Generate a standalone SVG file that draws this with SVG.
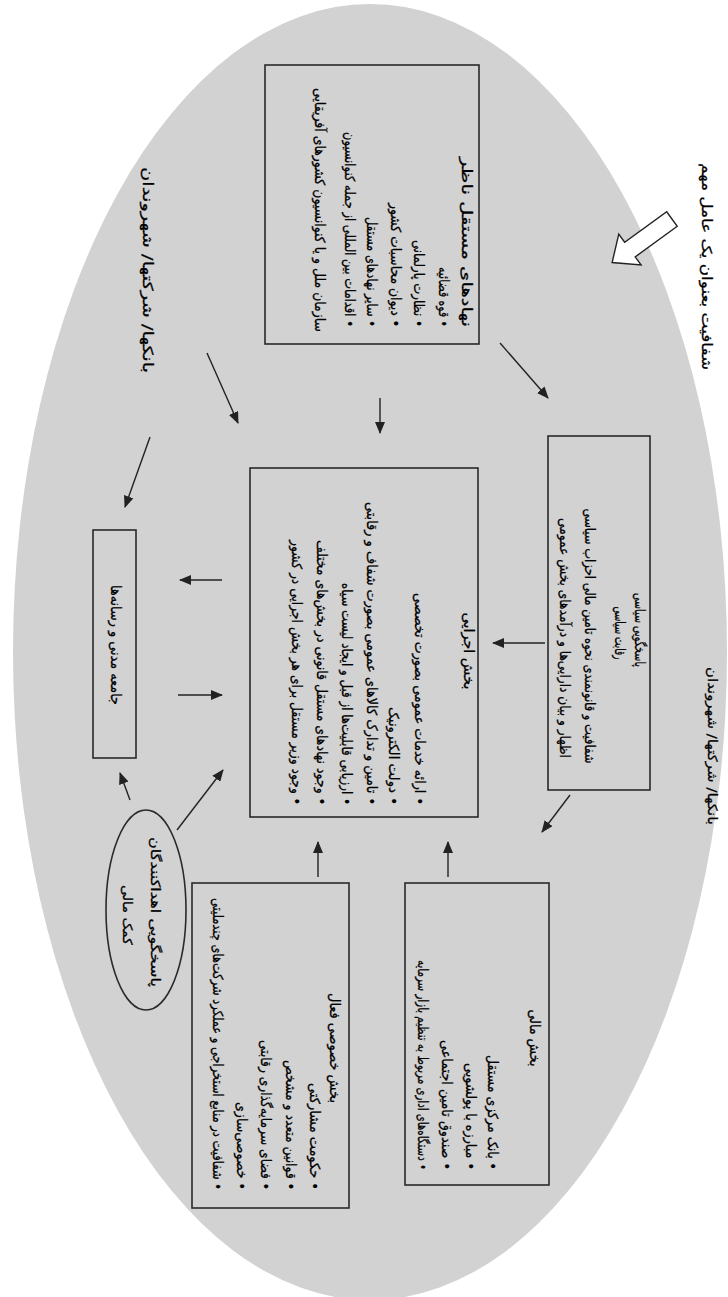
<svg xmlns="http://www.w3.org/2000/svg" width="728" height="1297" viewBox="0 0 728 1297">
<defs>
<style>
.t{font-family:"DejaVu Sans",sans-serif;font-size:14px;fill:#000;stroke:#000;stroke-width:0.25;direction:rtl;dominant-baseline:central}
.s{font-size:13px}
.c{text-anchor:middle}
.box{fill:none;stroke:#2a2a2a;stroke-width:1.6}
.ar{stroke:#222;stroke-width:1.4;fill:none;marker-end:url(#ah)}
</style>
<marker id="ah" markerUnits="userSpaceOnUse" markerWidth="12" markerHeight="10" refX="11" refY="5" orient="auto">
<path d="M0,0 L12,5 L0,10 Z" fill="#222"/>
</marker>
</defs>
<rect width="728" height="1297" fill="#fff"/>
<ellipse id="bg" cx="370" cy="652" rx="357" ry="648" fill="#d2d2d2"/>

<g id="header">
<text class="t" transform="translate(707,370) rotate(90)" textLength="207" lengthAdjust="spacingAndGlyphs">شفافیت بعنوان یک عامل مهم</text>
<polygon points="0,-9 52,-9 52,-19 74,0 52,19 52,9 0,9" fill="#fff" stroke="#222" stroke-width="1.4" transform="translate(672,219) rotate(144)"/>
</g>
<g id="label-right">
<text class="t s" transform="translate(712,825) rotate(90)" textLength="158" lengthAdjust="spacingAndGlyphs">بانکها/ شرکتها/ شهروندان</text>
</g>
<g id="label-left">
<text class="t" transform="translate(148,373) rotate(90)" textLength="206" lengthAdjust="spacingAndGlyphs">بانکها/ شرکتها/ شهروندان</text>
</g>

<g id="node-oversight">
<rect class="box" x="265" y="65" width="214" height="279"/>
<text class="t" transform="translate(467,327) rotate(90)" textLength="170" lengthAdjust="spacingAndGlyphs">نهادهای مستقل ناظر</text>
<text class="t" transform="translate(444,327) rotate(90)" textLength="60" lengthAdjust="spacingAndGlyphs">•  قوه قضائیه</text>
<text class="t" transform="translate(419,327) rotate(90)" textLength="87" lengthAdjust="spacingAndGlyphs">•  نظارت پارلمانی</text>
<text class="t" transform="translate(396,327) rotate(90)" textLength="124" lengthAdjust="spacingAndGlyphs">•  دیوان محاسبات کشور</text>
<text class="t" transform="translate(372,327) rotate(90)" textLength="110" lengthAdjust="spacingAndGlyphs">•  سایر نهادهای مستقل</text>
<text class="t" transform="translate(350,327) rotate(90)" textLength="195" lengthAdjust="spacingAndGlyphs">•  اقدامات بین المللی از جمله کنوانسیون</text>
<text class="t" transform="translate(320,332) rotate(90)" textLength="244" lengthAdjust="spacingAndGlyphs">سازمان ملل و یا کنوانسیون کشورهای آفریقایی</text>
</g>

<g id="node-political">
<rect class="box" x="548" y="436" width="102" height="354"/>
<text class="t c" transform="translate(640,630) rotate(90)" textLength="74" lengthAdjust="spacingAndGlyphs">پاسخگویی سیاسی</text>
<text class="t c" transform="translate(620,633) rotate(90)" textLength="53" lengthAdjust="spacingAndGlyphs">رقابت سیاسی</text>
<text class="t c" transform="translate(590,636) rotate(90)" textLength="255" lengthAdjust="spacingAndGlyphs">شفافیت و قانونمندی نحوه تامین مالی احزاب سیاسی</text>
<text class="t c" transform="translate(565,638) rotate(90)" textLength="240" lengthAdjust="spacingAndGlyphs">اظهار و بیان دارایی‌ها و درآمدهای بخش عمومی</text>
</g>

<g id="node-executive">
<rect class="box" x="250" y="468" width="228" height="349"/>
<text class="t c" transform="translate(469,651) rotate(90)" textLength="77" lengthAdjust="spacingAndGlyphs">بخش اجرایی</text>
<text class="t" transform="translate(420,805) rotate(90)" textLength="212" lengthAdjust="spacingAndGlyphs">•  ارائه خدمات عمومی بصورت تخصصی</text>
<text class="t" transform="translate(394,805) rotate(90)" textLength="98" lengthAdjust="spacingAndGlyphs">•  دولت الکترونیک</text>
<text class="t" transform="translate(372,805) rotate(90)" textLength="303" lengthAdjust="spacingAndGlyphs">•  تامین و تدارک کالاهای عمومی بصورت شفاف و رقابتی</text>
<text class="t" transform="translate(347,805) rotate(90)" textLength="222" lengthAdjust="spacingAndGlyphs">•  ارزیابی قابلیت‌ها از قبل و ایجاد لیست سیاه</text>
<text class="t" transform="translate(322,805) rotate(90)" textLength="265" lengthAdjust="spacingAndGlyphs">•  وجود نهادهای مستقل قانونی در بخش‌های مختلف</text>
<text class="t" transform="translate(297,805) rotate(90)" textLength="265" lengthAdjust="spacingAndGlyphs">•  وجود وزیر مستقل برای هر بخش اجرایی در کشور</text>
</g>

<g id="node-financial">
<rect class="box" x="405" y="883" width="144" height="302"/>
<text class="t c" transform="translate(535,1038) rotate(90)" textLength="57" lengthAdjust="spacingAndGlyphs">بخش مالی</text>
<text class="t" transform="translate(493,1170) rotate(90)" textLength="115" lengthAdjust="spacingAndGlyphs">•  بانک مرکزی مستقل</text>
<text class="t" transform="translate(471,1170) rotate(90)" textLength="107" lengthAdjust="spacingAndGlyphs">•  مبارزه با پولشویی</text>
<text class="t" transform="translate(447,1170) rotate(90)" textLength="130" lengthAdjust="spacingAndGlyphs">•  صندوق تامین اجتماعی</text>
<text class="t" transform="translate(423,1170) rotate(90)" textLength="210" lengthAdjust="spacingAndGlyphs">•  دستگاه‌های اداری مربوط به تنظیم بازار سرمایه</text>
</g>

<g id="node-private">
<rect class="box" x="192" y="883" width="157" height="325"/>
<text class="t c" transform="translate(335,1048) rotate(90)" textLength="110" lengthAdjust="spacingAndGlyphs">بخش خصوصی فعال</text>
<text class="t" transform="translate(315,1190) rotate(90)" textLength="107" lengthAdjust="spacingAndGlyphs">•  حکومت مشارکتی</text>
<text class="t" transform="translate(291,1190) rotate(90)" textLength="130" lengthAdjust="spacingAndGlyphs">•  قوانین متعدد و مشخص</text>
<text class="t" transform="translate(266,1190) rotate(90)" textLength="150" lengthAdjust="spacingAndGlyphs">•  فضای سرمایه‌گذاری رقابتی</text>
<text class="t" transform="translate(242,1190) rotate(90)" textLength="88" lengthAdjust="spacingAndGlyphs">•  خصوصی‌سازی</text>
<text class="t" transform="translate(218,1190) rotate(90)" textLength="292" lengthAdjust="spacingAndGlyphs">•  شفافیت در منابع استخراجی و عملکرد شرکت‌های چندملیتی</text>
</g>

<g id="node-donors">
<ellipse cx="146" cy="910" rx="40" ry="100" fill="none" stroke="#2a2a2a" stroke-width="1.6"/>
<text class="t s c" transform="translate(155,912) rotate(90)" textLength="150" lengthAdjust="spacingAndGlyphs">پاسخگویی اهداکنندگان</text>
<text class="t s c" transform="translate(127,915) rotate(90)" textLength="60" lengthAdjust="spacingAndGlyphs">کمک مالی</text>
</g>

<g id="node-civil">
<rect class="box" x="93" y="530" width="43" height="228"/>
<text class="t c" transform="translate(116,645) rotate(90)" textLength="120" lengthAdjust="spacingAndGlyphs">جامعه مدنی و رسانه‌ها</text>
</g>

<g id="connectors">
<line class="ar" x1="150" y1="437" x2="125" y2="507"/>
<line class="ar" x1="207" y1="353" x2="238" y2="423"/>
<line class="ar" x1="222" y1="580" x2="180" y2="580"/>
<line class="ar" x1="178" y1="695" x2="222" y2="695"/>
<line class="ar" x1="177" y1="830" x2="223" y2="770"/>
<line class="ar" x1="130" y1="800" x2="120" y2="773"/>
<line class="ar" x1="380" y1="398" x2="380" y2="433"/>
<line class="ar" x1="500" y1="343" x2="548" y2="398"/>
<line class="ar" x1="545" y1="643" x2="493" y2="643"/>
<line class="ar" x1="570" y1="795" x2="542" y2="832"/>
<line class="ar" x1="448" y1="877" x2="448" y2="842"/>
<line class="ar" x1="318" y1="877" x2="318" y2="842"/>
</g>
</svg>
